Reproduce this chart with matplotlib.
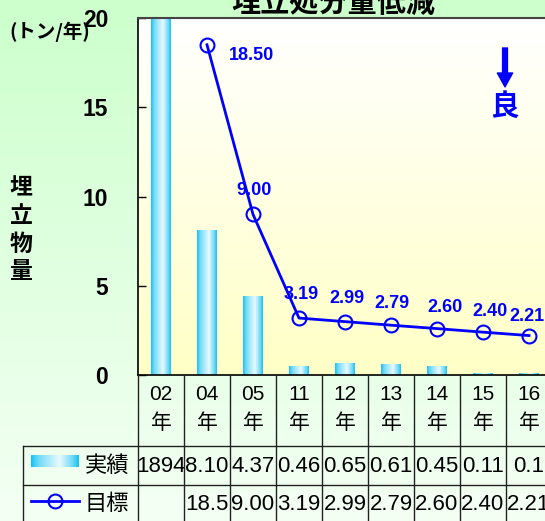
import numpy as np
import matplotlib
matplotlib.use('Agg')
import matplotlib.pyplot as plt
from matplotlib.colors import LinearSegmentedColormap, to_rgb
from matplotlib.lines import Line2D
import matplotlib.transforms as mtrans

# ---------------- data ----------------
categories = ['02', '04', '05', '11', '12', '13', '14', '15', '16']
year_suffix = '年'
actual = [1894, 8.10, 4.37, 0.46, 0.65, 0.61, 0.45, 0.11, 0.10]
actual_labels = ['1894', '8.10', '4.37', '0.46', '0.65', '0.61', '0.45', '0.11', '0.1']
target = [np.nan, 18.50, 9.00, 3.19, 2.99, 2.79, 2.60, 2.40, 2.21]
target_labels = ['', '18.5', '9.00', '3.19', '2.99', '2.79', '2.60', '2.40', '2.21']
point_labels = ['', '18.50', '9.00', '3.19', '2.99', '2.79', '2.60', '2.40', '2.21']
yticks = [0, 5, 10, 15, 20]
title = '埋立処分量低減'
unit_label = '(トン/年)'
ylabel_chars = ['埋', '立', '物', '量']
series_names = ['実績', '目標']
good_label = '良'

# label offsets in pixels (style)
label_offsets = [(0, 0), (45, 11), (1, -24), (2, -24), (2, -23), (1, -22), (8, -21), (7, -21), (-2, -19)]

W, H = 545, 521
fig = plt.figure(figsize=(W / 100, H / 100), dpi=100)

def fx(px):
    return px / W

def fy(py):
    return 1 - py / H

JP = ['Noto Sans CJK JP', 'DejaVu Sans']
NUM = ['Liberation Sans', 'DejaVu Sans']
BLUE = '#0000FF'

# ---------------- figure background ----------------
bg = fig.add_axes([0, 0, 1, 1], zorder=-10)
bg.axis('off')
top = np.array(to_rgb('#CCFFCC'))
bot = np.array(to_rgb('#F4FFF4'))
t = np.linspace(0, 1, 256)[:, None]
grad = top * (1 - t) + bot * t
bg.imshow(grad[:, None, :], aspect='auto', extent=[0, 1, 0, 1], interpolation='bilinear')
bg.set_xlim(0, 1)
bg.set_ylim(0, 1)

# ---------------- main axes ----------------
ax = fig.add_axes([fx(138), 1 - 375 / H, 414 / W, 357 / H])
ax.patch.set_visible(False)
ptop = np.array(to_rgb('#FFFFFF'))
pbot = np.array(to_rgb('#FFFFC6'))
pgrad = ptop * (1 - t) + pbot * t
ax.imshow(pgrad[:, None, :], aspect='auto', extent=[0, 1, 0, 1],
          transform=ax.transAxes, zorder=0, interpolation='bilinear')

x = np.arange(len(categories))
bars = ax.bar(x, actual, width=0.43, color='none', edgecolor='none', zorder=2)
cmap = LinearSegmentedColormap.from_list(
    'bar', [(0, '#18C2F2'), (0.15, '#70DAF8'), (0.6, '#E8FAFF'), (0.87, '#70DAF8'), (1, '#18C2F2')])
hgrad = np.linspace(0, 1, 64)[None, :]
ymax = yticks[-1]
for b in bars:
    x0, w, h = b.get_x(), b.get_width(), b.get_height()
    ax.imshow(hgrad, cmap=cmap, aspect='auto', extent=[x0, x0 + w, 0, min(h, ymax)],
              zorder=2, interpolation='bilinear')

ax.plot(x, target, color=BLUE, lw=2, marker='o', ms=10, mfc='none', mec=BLUE, mew=1.5, zorder=4)
for xi, yi, lbl, (dx, dy) in zip(x, target, point_labels, label_offsets):
    if lbl:
        ax.annotate(lbl, (xi, yi), xytext=(dx * 0.72, -dy * 0.72), textcoords='offset points',
                    ha='center', va='center', color=BLUE, fontsize=13, fontweight='bold',
                    family=NUM, zorder=5)

ax.set_xlim(-0.5, len(categories) - 0.5)
ax.set_ylim(0, ymax)
ax.set_xticks([])
ax.set_yticks(yticks)
ax.set_yticklabels([str(v) for v in yticks], fontsize=16.5, fontweight='bold', family=NUM)
ax.tick_params(axis='y', direction='in', length=6, width=1, pad=21.5)
ax.spines['right'].set_visible(False)
ax.spines['top'].set_color('#444444')
ax.spines['top'].set_linewidth(1.5)
ax.spines['left'].set_linewidth(1.2)
ax.spines['bottom'].set_linewidth(1.2)
for s in ax.spines.values():
    s.set_zorder(6)

# good-direction arrow
ax.annotate('', xy=(0.8865, 0.807), xytext=(0.8865, 0.916), xycoords='axes fraction',
            arrowprops=dict(facecolor=BLUE, edgecolor=BLUE, width=3.5, headwidth=11,
                            headlength=10, shrink=0))
ax.text(0.884, 0.751, good_label, transform=ax.transAxes, ha='center', va='center',
        fontsize=20.5, fontweight='bold', color=BLUE, family=JP)

# ---------------- titles / labels ----------------
fig.text(fx(333), fy(3), title, ha='center', va='center', fontsize=21,
         fontweight='bold', family=JP)
fig.text(fx(9), fy(32), unit_label, ha='left', va='center', fontsize=14,
         fontweight='bold', family=JP)
for k, ch in enumerate(ylabel_chars):
    fig.text(fx(21), fy(188 + 28 * k), ch, ha='center', va='center', fontsize=16.5,
             fontweight='bold', family=JP)

# ---------------- data table ----------------
trans = mtrans.blended_transform_factory(ax.transData, fig.transFigure)
LC = '#222222'
for i, cat in enumerate(categories):
    ax.text(i, fy(395), cat, transform=trans, ha='center', va='center', fontsize=15,
            family=NUM, clip_on=False)
    ax.text(i, fy(423), year_suffix, transform=trans, ha='center', va='center', fontsize=15,
            family=JP, clip_on=False)
    ax.text(i, fy(467), actual_labels[i], transform=trans, ha='center', va='center',
            fontsize=16, family=NUM, clip_on=False)
    if target_labels[i]:
        ax.text(i, fy(505), target_labels[i], transform=trans, ha='center', va='center',
                fontsize=16, family=NUM, clip_on=False)

for bnd in np.arange(len(categories) + 1) - 0.5:
    fig.add_artist(Line2D([bnd, bnd], [fy(375), fy(530)], transform=trans, color=LC, lw=1))
for yy in (446, 485):
    fig.add_artist(Line2D([fx(23), 1.05], [fy(yy), fy(yy)], color=LC, lw=1))
fig.add_artist(Line2D([fx(23), fx(23)], [fy(446), fy(530)], color=LC, lw=1))

# legend keys inside table
bg.imshow(hgrad, cmap=cmap, aspect='auto', extent=[fx(31), fx(79), fy(467), fy(455)],
          interpolation='bilinear', zorder=3)
bg.set_xlim(0, 1)
bg.set_ylim(0, 1)
fig.add_artist(Line2D([fx(31), fx(79)], [fy(501), fy(501)], color=BLUE, lw=2))
fig.add_artist(Line2D([fx(55)], [fy(501)], marker='o', ms=10, mfc='none', mec=BLUE,
                      mew=1.5, color=BLUE))
fig.text(fx(107), fy(465), series_names[0], ha='center', va='center', fontsize=16, family=JP)
fig.text(fx(107), fy(504), series_names[1], ha='center', va='center', fontsize=16, family=JP)

fig.savefig('out.png', dpi=100)
